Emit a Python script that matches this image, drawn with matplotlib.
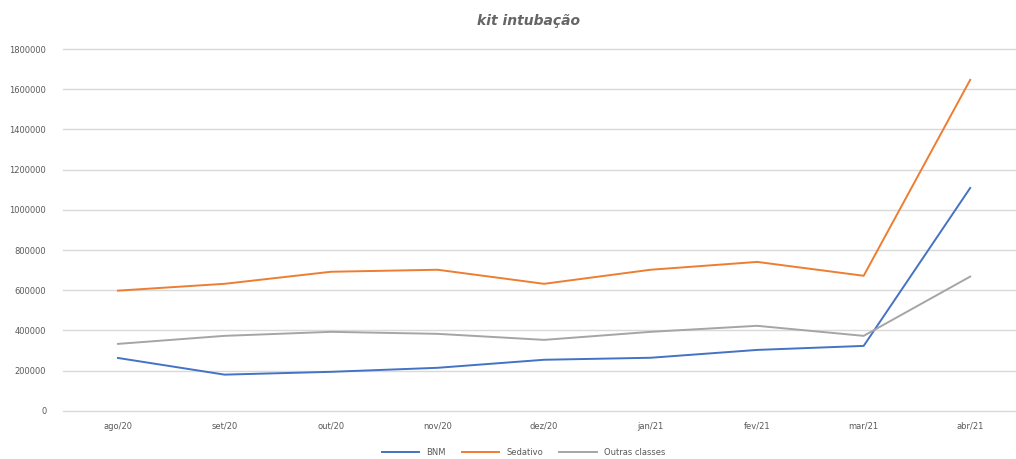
import matplotlib
matplotlib.use("Agg")
import matplotlib.pyplot as plt
from matplotlib.ticker import FuncFormatter

months = ['ago/20', 'set/20', 'out/20', 'nov/20', 'dez/20', 'jan/21', 'fev/21', 'mar/21', 'abr/21']
bnm = [263000, 180000, 194000, 214000, 254000, 264000, 303000, 323000, 1109000]
sedativo = [598000, 632000, 692000, 702000, 632000, 702000, 741000, 672000, 1647000]
outras = [333000, 373000, 393000, 383000, 353000, 393000, 423000, 373000, 668000]

fig = plt.figure(figsize=(10.16, 4.59), dpi=100)
ax = fig.add_axes([0.062, 0.105, 0.938, 0.788])

x = range(len(months))
ax.plot(x, bnm, color='#4472C4', lw=1.4, label='BNM')
ax.plot(x, sedativo, color='#ED7D31', lw=1.4, label='Sedativo')
ax.plot(x, outras, color='#A5A5A5', lw=1.4, label='Outras classes')

ax.set_xlim(-0.516, 8.43)
ax.set_ylim(0, 1800000)
ax.set_yticks(range(0, 1800001, 200000))
ax.yaxis.set_major_formatter(FuncFormatter(lambda v, p: '%d' % v))
ax.set_xticks(list(x))
ax.set_xticklabels(months)
ax.grid(axis='y', color='#D9D9D9', lw=1)
for gl in ax.get_ygridlines():
    gl.set_clip_on(False)
ax.set_axisbelow(True)
for s in ax.spines.values():
    s.set_visible(False)
ax.tick_params(length=0, labelsize=6, labelcolor='#595959')
ax.tick_params(axis='y', pad=12)
ax.tick_params(axis='x', pad=8)

fig.text(0.52, 0.955, 'kit intubação', ha='center', va='center', fontsize=10,
         style='italic', fontweight='semibold', color='#656565')
fig.legend(loc='center', bbox_to_anchor=(0.515, 0.015), ncol=3, frameon=False,
           fontsize=6, labelcolor='#595959', handlelength=4.5, columnspacing=2)

fig.savefig('out.png', dpi=100)
